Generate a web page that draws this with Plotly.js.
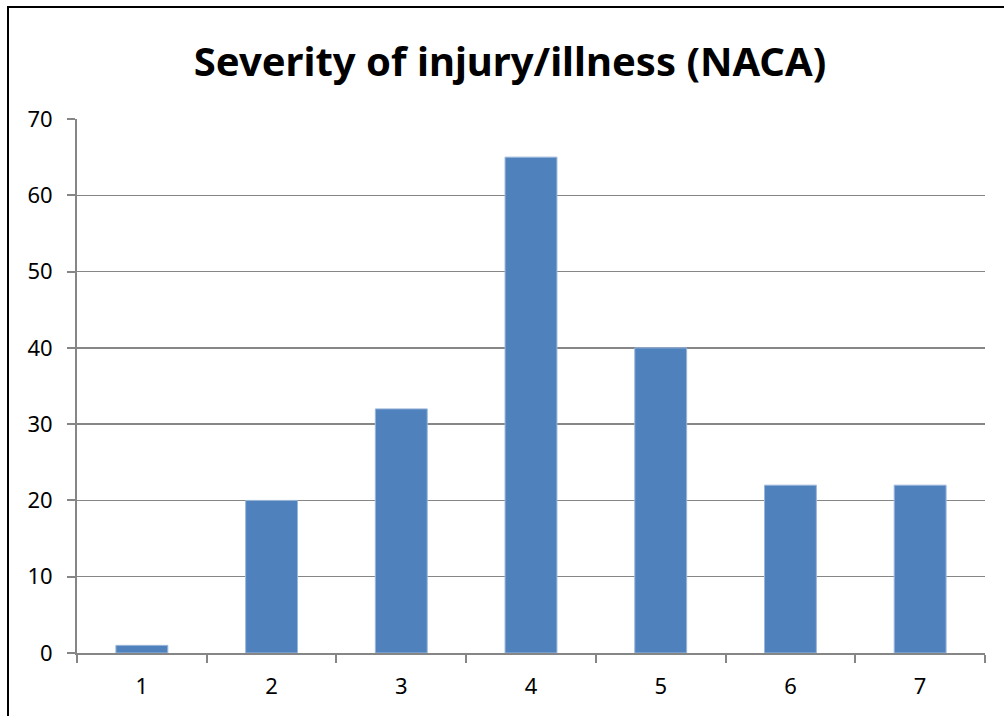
<!DOCTYPE html>
<html>
<head>
<meta charset="utf-8">
<script src="https://cdn.plot.ly/plotly-3.0.1.min.js"></script>
<style>
  html, body { margin: 0; padding: 0; background: #fff; }
  #wrap { position: relative; width: 1004px; height: 716px; overflow: hidden; }
  #frame { position: absolute; left: 7px; top: 6px; width: 1100px; height: 800px; border-top: 2px solid #000; border-left: 2px solid #000; pointer-events: none; }
  #chart { position: absolute; left: 0; top: 0; width: 1004px; height: 716px; }
</style>
</head>
<body>
<div id="wrap">
  <div id="chart"></div>
  <div id="frame"></div>
</div>
<script>
const categories = ['1', '2', '3', '4', '5', '6', '7'];
const counts = [1, 20, 32, 65, 40, 22, 22];
const yTicks = [0, 10, 20, 30, 40, 50, 60, 70];
const chartTitle = 'Severity of injury/illness (NACA)';

const trace = {
  type: 'bar',
  x: categories,
  y: counts,
  marker: { color: '#4F81BD', line: { color: '#9BB7DA', width: 1 } },
  hoverinfo: 'x+y'
};

const layout = {
  width: 1004,
  height: 716,
  paper_bgcolor: '#ffffff',
  plot_bgcolor: '#ffffff',
  margin: { l: 77, r: 19, t: 119, b: 63 },
  bargap: 0.6,
  showlegend: false,
  font: { family: 'Noto Sans, Open Sans, sans-serif', color: '#000', size: 23 },
  title: {
    text: '<b>' + chartTitle + '</b>',
    font: { family: 'Noto Sans, Open Sans, sans-serif', size: 40, color: '#000' },
    x: 0.508, xanchor: 'center', y: 0.913, yanchor: 'middle'
  },
  xaxis: {
    type: 'category',
    tickson: 'boundaries',
    ticks: 'outside',
    ticklen: 8,
    tickcolor: '#868686',
    tickwidth: 2,
    showline: true,
    linecolor: '#868686',
    linewidth: 2,
    showgrid: false,
    tickfont: { size: 22 },
    ticklabelstandoff: 13,
    fixedrange: true
  },
  yaxis: {
    range: [0, 70],
    tickvals: yTicks,
    ticktext: yTicks.map(String),
    ticks: 'outside',
    ticklen: 8,
    tickcolor: '#868686',
    tickwidth: 2,
    showline: true,
    linecolor: '#868686',
    linewidth: 2,
    showgrid: true,
    gridcolor: '#868686',
    gridwidth: 1.5,
    zeroline: false,
    tickfont: { size: 22 },
    ticklabelstandoff: 10,
    fixedrange: true
  }
};

Plotly.newPlot('chart', [trace], layout, { displayModeBar: false, staticPlot: true });
</script>
</body>
</html>
